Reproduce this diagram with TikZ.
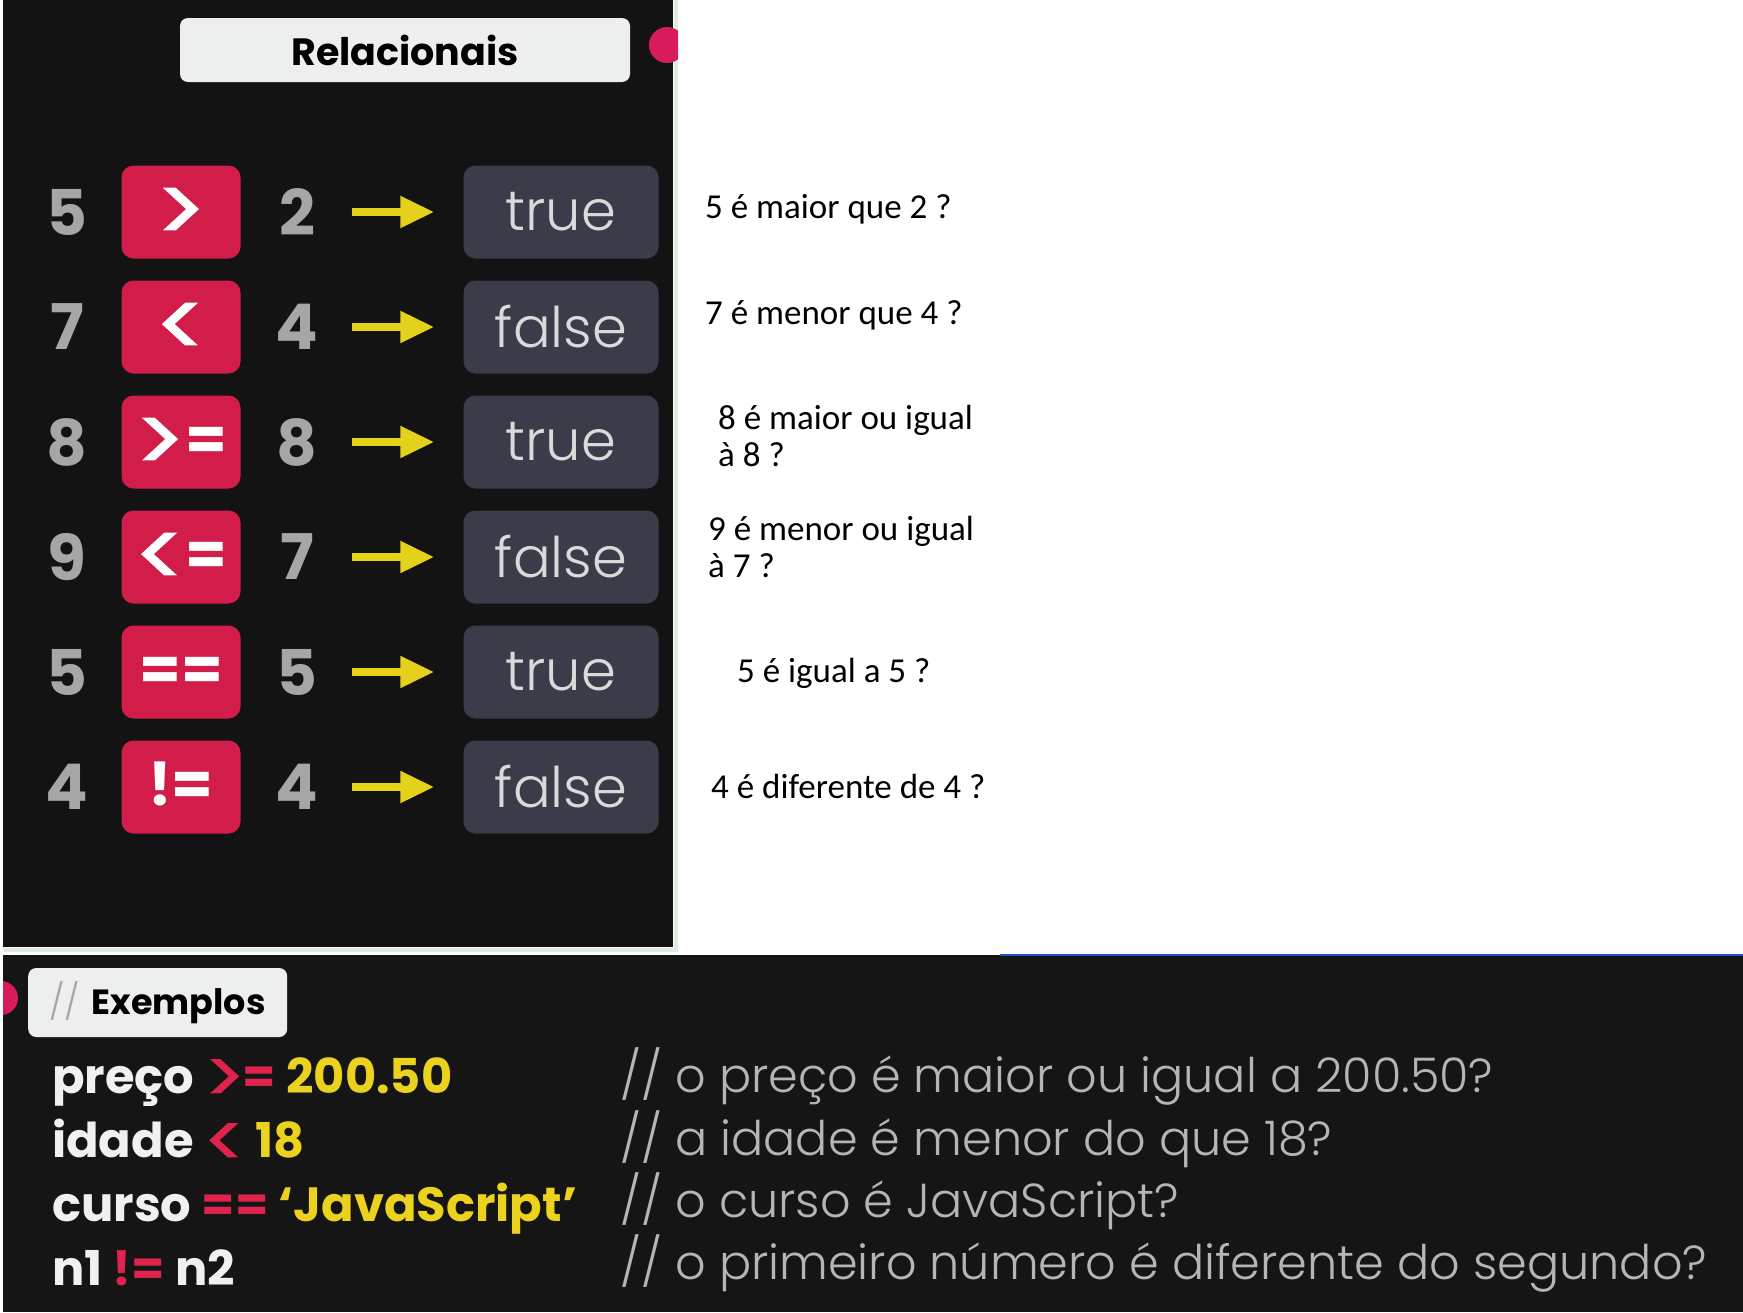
\documentclass[tikz,border=0pt]{standalone}
\usepackage{fontspec}
\usepackage{graphicx}
\usetikzlibrary{arrows.meta}
\newfontfamily\popfont{Poppins}
\newfontfamily\popop[FakeBold=1.6]{Poppins}
\newfontfamily\poplight{Poppins Light}
\newfontfamily\calfont{Carlito}
\newcommand\opgt{\raisebox{-0.2em}[0pt][0pt]{\scalebox{1.55}[1.5]{\popop\mdseries>}}}
\newcommand\oplt{\raisebox{-0.2em}[0pt][0pt]{\scalebox{1.55}[1.5]{\popop\mdseries<}}}
\definecolor{cpanel}{HTML}{131313}
\definecolor{cpanelb}{HTML}{151515}
\definecolor{cred}{HTML}{D21D4A}
\definecolor{cres}{HTML}{3A3C4A}
\definecolor{carrow}{HTML}{E5D01C}
\definecolor{cnum}{HTML}{A6A6A6}
\definecolor{crest}{HTML}{DADADA}
\definecolor{ctitle}{HTML}{EDEEEE}
\definecolor{ccode}{HTML}{F0F0F0}
\definecolor{cop}{HTML}{E0224E}
\definecolor{cval}{HTML}{EAD21F}
\definecolor{ccmt}{HTML}{B5B5B5}
\definecolor{cdot}{HTML}{D81B5C}
\definecolor{cedge}{HTML}{DDEEDD}
\definecolor{cblue}{HTML}{2050D0}
\tikzset{
  numtxt/.style={text=cnum, inner sep=0pt, font=\popfont\bfseries\fontsize{63}{64}\selectfont},
  opbox/.style={fill=cred, rounded corners=12pt, minimum width=119pt, minimum height=93pt,
    text=white, inner sep=0pt, text height=36pt, text depth=0pt,
    font=\popfont\bfseries\fontsize{60}{60}\selectfont},
  resultbox/.style={fill=cres, rounded corners=12pt, minimum width=195pt, minimum height=93pt,
    text=crest, inner sep=0pt, font=\poplight\fontsize{56}{56}\selectfont},
  yarrow/.style={draw=carrow, line width=8pt, shorten >=29pt,
    -{Triangle[length=34pt,width=30pt]}},
  qtext/.style={anchor=west, align=left, inner sep=0pt, font=\calfont\fontsize{35}{37}\selectfont},
  codetxt/.style={anchor=base west, inner sep=0pt, text=ccode, font=\popfont\bfseries\fontsize{48}{50}\selectfont},
  cmttxt/.style={anchor=west, inner sep=0pt, text=ccmt, font=\poplight\fontsize{47.7}{50}\selectfont},
  labelbox/.style={fill=ctitle, rounded corners=8pt, inner sep=0pt},
}
\begin{document}
\begin{tikzpicture}[x=1pt,y=-1pt]
\useasboundingbox (0,0) rectangle (1743,1312);
\fill[white] (0,0) rectangle (1743,1312);
% top panel
\fill[cpanel] (3,0) rectangle (673,947);
\draw[cedge, line width=4pt] (3,950) -- (676,950) -- (676,0);
\begin{scope}
  \clip (3,0) rectangle (678,947);
  \fill[cdot] (667,45) circle (18);
\end{scope}
\node[labelbox, minimum width=450pt, minimum height=64pt,
  font=\popfont\bfseries\fontsize{38}{40}\selectfont] (title) at (405,50) {Relacionais};
\foreach \i/\a/\op/\b/\res in {1/5/\opgt/2/true, 2/7/\oplt/4/false, 3/8/\opgt=/8/true,
    4/9/\oplt=/7/false, 5/5/==/5/true, 6/4/!=/4/false}{
  \pgfmathsetmacro\yy{212+115*(\i-1)}
  \node[numtxt] (a\i) at (67,\yy) {\a};
  \node[opbox] (op\i) at (181,\yy) {\op};
  \node[numtxt] (b\i) at (297,\yy) {\b};
  \node[resultbox] (r\i) at (561,\yy) {\res};
  \coordinate (s\i) at (352,\yy);
  \draw[yarrow] (s\i) -- (r\i.west);
}
% questions
\node[qtext] (q1) at (705,209) {5 é maior que 2 ?};
\node[qtext] (q2) at (705,315) {7 é menor que 4 ?};
\node[qtext] (q3) at (718,436) {8 é maior ou igual\\à 8 ?};
\node[qtext] (q4) at (708,547) {9 é menor ou igual\\à 7 ?};
\node[qtext] (q5) at (737,673) {5 é igual a 5 ?};
\node[qtext] (q6) at (711,786) {4 é diferente de 4 ?};
% bottom panel
\fill[cpanelb] (3,955) rectangle (1743,1312);
\draw[cblue, line width=2pt] (1000,955) -- (1743,955);
\begin{scope}
  \clip (3,955) rectangle (100,1100);
  \fill[cdot] (1,998) circle (17);
\end{scope}
\node[labelbox, anchor=west, text width=217pt, align=left, inner xsep=21pt,
  minimum height=69pt, font=\popfont\fontsize{35}{40}\selectfont] (ex) at (28,1002.5)
  {{\poplight\color{cnum}//} \bfseries Exemplos};
\node[codetxt] (c1) at (52,1093) {preço {\color{cop}\opgt\kern-0.04em=} {\color{cval}200.50}};
\node[codetxt] (c2) at (52,1157) {idade {\color{cop}\oplt} {\color{cval}18}};
\node[codetxt] (c3) at (52,1221) {curso {\color{cop}==} {\color{cval}‘JavaScript’}};
\node[codetxt] (c4) at (52,1285) {n1 {\color{cop}!=} n2};
\node[cmttxt] (m1) at (620,1076) {// o preço é maior ou igual a 200.50?};
\node[cmttxt] (m2) at (620,1139) {// a idade é menor do que 18?};
\node[cmttxt] (m3) at (620,1201) {// o curso é JavaScript?};
\node[cmttxt] (m4) at (620,1263) {// o primeiro número é diferente do segundo?};
\end{tikzpicture}
\end{document}
